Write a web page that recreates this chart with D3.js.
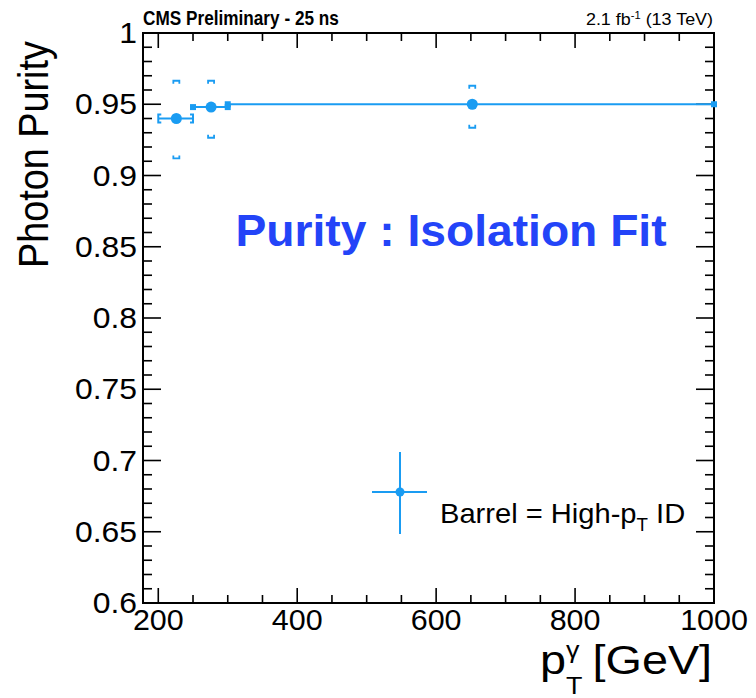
<!DOCTYPE html>
<meta charset="utf-8">
<head>
<title>Photon Purity</title>
</head>
<style>
html, body {
  margin: 0;
  background: white;
  overflow: hidden;
}
text {
  font-family: "Liberation Sans", Arial, Helvetica, sans-serif;
}
</style>
<body>
<script src="https://d3js.org/d3.v7.min.js"></script>
<script>

// data
var binLow    = [200, 250, 300];
var binHigh   = [250, 300, 1000];
var binCenter = [226, 276, 652];
var purity    = [0.940, 0.948, 0.950];
var errUp     = [0.9665, 0.9665, 0.963];
var errDown   = [0.912, 0.9265, 0.9335];

var xMajor = [200, 400, 600, 800, 1000];
var yMajor = [0.6, 0.65, 0.7, 0.75, 0.8, 0.85, 0.9, 0.95, 1];

var width = 756, height = 698;
var blue = "#1a9cf2";

var svg = d3.select("body").append("svg")
    .attr("width", width)
    .attr("height", height);

var x = d3.scaleLinear().domain([178, 1000]).range([143, 714]);
var y = d3.scaleLinear().domain([0.6, 1]).range([603, 33]);

// text helper, stretch sx along the text like the original picture
function txt(s, px, py, size, opts) {
    opts = opts || {};
    var t = svg.append("text")
        .attr("transform", "translate(" + px + "," + py + ")" +
              (opts.rotate ? " rotate(" + opts.rotate + ")" : "") +
              " scale(" + (opts.sx || 1) + ",1)")
        .attr("font-size", size)
        .attr("text-anchor", opts.anchor || "start")
        .attr("fill", opts.fill || "black")
        .attr("font-weight", opts.bold ? "bold" : "normal")
        .text(s);
    return t;
}

// minor ticks
var xMinor = d3.range(200, 1001, 50);
var yMinor = d3.range(0, 41).map(function (i) { return 0.6 + i * 0.01; });

var ticks = svg.append("g").attr("stroke", "black").attr("stroke-width", 1.6);

xMinor.forEach(function (v) {
    var len = xMajor.indexOf(v) >= 0 ? 15 : 8;
    ticks.append("line").attr("x1", x(v)).attr("x2", x(v))
        .attr("y1", y(0.6)).attr("y2", y(0.6) - len);
    ticks.append("line").attr("x1", x(v)).attr("x2", x(v))
        .attr("y1", y(1)).attr("y2", y(1) + len);
});
yMinor.forEach(function (v, i) {
    var len = i % 5 === 0 ? 18 : 9;
    ticks.append("line").attr("x1", x(178)).attr("x2", x(178) + len)
        .attr("y1", y(v)).attr("y2", y(v));
    ticks.append("line").attr("x1", x(1000)).attr("x2", x(1000) - len)
        .attr("y1", y(v)).attr("y2", y(v));
});

// frame
svg.append("rect")
    .attr("x", x(178)).attr("y", y(1))
    .attr("width", x(1000) - x(178)).attr("height", y(0.6) - y(1))
    .attr("fill", "none").attr("stroke", "black").attr("stroke-width", 2);

// tick labels
xMajor.forEach(function (v) {
    txt(String(v), x(v), 630, 29, {anchor: "middle", sx: 1.05});
});
yMajor.forEach(function (v) {
    txt(String(+v.toFixed(2)), 137, y(v) + 10, 29, {anchor: "end", sx: 1.1});
});

// axis titles
txt("Photon Purity", 48, 268, 42, {rotate: -90, sx: 0.9});
var xt = txt("", 540, 674, 40, {sx: 1.17});
xt.append("tspan").text("p");
xt.append("tspan").attr("dy", 20).attr("font-size", 23).text("T");
xt.append("tspan").attr("dx", -14).attr("dy", -36).attr("font-size", 23).text("\u03b3");
xt.append("tspan").attr("dy", 16).text(" [GeV]");

// header
txt("CMS Preliminary - 25 ns", 143, 25, 20, {bold: true, sx: 0.86});
var lumi = txt("", 713, 25, 16, {anchor: "end", sx: 1.12});
lumi.append("tspan").text("2.1 fb");
lumi.append("tspan").attr("dy", -6).attr("font-size", 10).text("-1");
lumi.append("tspan").attr("dy", 6).text(" (13 TeV)");

// big blue label
txt("Purity : Isolation Fit", 451, 246, 44, {anchor: "middle", bold: true, fill: "#2344f8", sx: 1.05});

// data: horizontal error bars
var pts = svg.append("g");
binLow.forEach(function (lo, i) {
    var yy = y(purity[i]);
    pts.append("line")
        .attr("x1", x(lo)).attr("x2", x(binHigh[i]))
        .attr("y1", yy).attr("y2", yy)
        .attr("stroke", blue).attr("stroke-width", 2);
    if (i === 0) {
        // open brackets on the ends
        [x(lo), x(binHigh[i])].forEach(function (ex, k) {
            var d = k === 0 ? 3 : -3;
            pts.append("path")
                .attr("d", "M" + (ex + d) + "," + (yy - 4) + "H" + ex + "V" + (yy + 4) + "H" + (ex + d))
                .attr("fill", "none").attr("stroke", blue).attr("stroke-width", 2);
        });
    } else {
        [x(lo), x(binHigh[i])].forEach(function (ex) {
            pts.append("rect")
                .attr("x", ex - 3).attr("y", yy - 3)
                .attr("width", 6).attr("height", 6)
                .attr("fill", blue);
        });
    }
    // caps of the error bars
    var cx = x(binCenter[i]);
    pts.append("path")
        .attr("d", "M" + (cx - 3) + "," + (y(errUp[i]) + 3) + "V" + y(errUp[i]) + "H" + (cx + 3) + "V" + (y(errUp[i]) + 3))
        .attr("fill", "none").attr("stroke", blue).attr("stroke-width", 1.8);
    pts.append("path")
        .attr("d", "M" + (cx - 3) + "," + (y(errDown[i]) - 3) + "V" + y(errDown[i]) + "H" + (cx + 3) + "V" + (y(errDown[i]) - 3))
        .attr("fill", "none").attr("stroke", blue).attr("stroke-width", 1.8);
    pts.append("circle")
        .attr("cx", cx).attr("cy", yy).attr("r", 5.5)
        .attr("fill", blue);
});

// legend
var leg = svg.append("g").attr("stroke", blue).attr("stroke-width", 2);
leg.append("line").attr("x1", 372).attr("x2", 427).attr("y1", 492).attr("y2", 492);
leg.append("line").attr("x1", 400).attr("x2", 400).attr("y1", 452).attr("y2", 534);
leg.append("circle").attr("cx", 400).attr("cy", 492).attr("r", 4.5).attr("fill", blue).attr("stroke", "none");

var lt = txt("", 440, 523, 28, {sx: 1.04});
lt.append("tspan").text("Barrel = High-p");
lt.append("tspan").attr("dy", 8).attr("font-size", 18).text("T");
lt.append("tspan").attr("dy", -8).text(" ID");

</script>
</body>
